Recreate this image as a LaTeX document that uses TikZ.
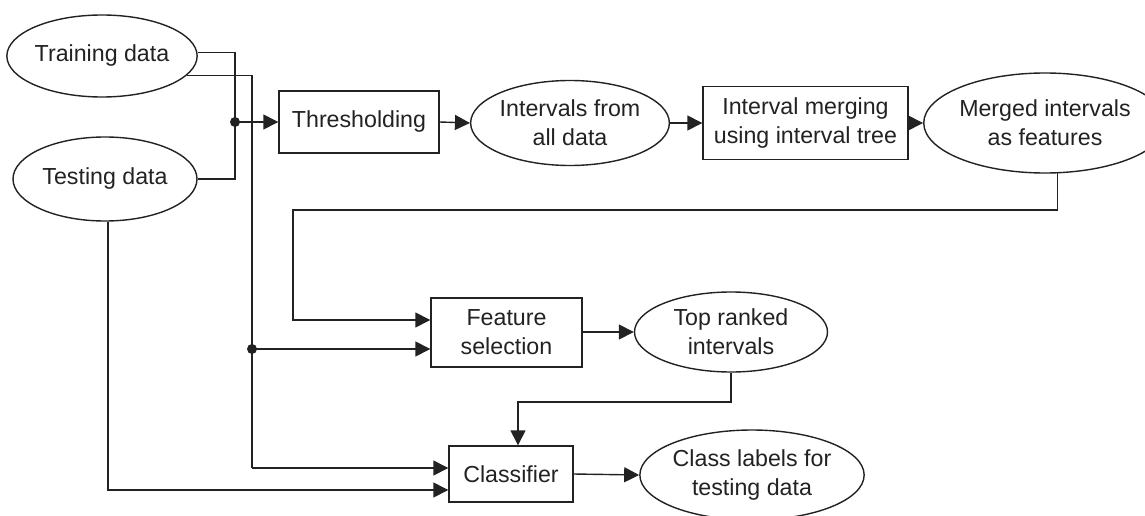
\documentclass[tikz,border=0pt]{standalone}
\usepackage{fontspec}
\setmainfont{Liberation Sans}
\usetikzlibrary{arrows.meta,shapes.geometric,calc}
\definecolor{ink}{HTML}{222222}
\tikzset{
  base/.style={draw=ink, line width=1.4pt, text=ink, inner sep=0pt, align=center,
    font=\fontsize{23.2}{29}\selectfont},
  oval/.style={base, ellipse},
  stepbox/.style={base, rectangle},
  wire/.style={draw=ink, line width=1.4pt},
  feed/.style={wire, -{Triangle[length=15pt,width=15pt]}},
  dot/.style={circle, fill=ink, inner sep=0pt, minimum size=10pt}
}
\begin{document}
\begin{tikzpicture}[x=1pt,y=-1pt]
\useasboundingbox (0,0) rectangle (1145,516);

% data sources
\node[oval, minimum width=189pt, minimum height=82pt] (train) at (102,56) {Training data};
\node[oval, minimum width=184pt, minimum height=84pt] (test) at (105,179) {Testing data};

% interval extraction row
\node[stepbox, minimum width=160pt, minimum height=62pt] (thr) at (359,122) {Thresholding};
\node[oval, minimum width=184pt, minimum height=85pt] (ivl) at (570,123) {Intervals from\\all data};
\node[stepbox, minimum width=205pt, minimum height=73pt] (mrg) at (805.5,123) {Interval merging\\using interval tree};
\node[oval, minimum width=200pt, minimum height=100pt] (feat) at (1045,123) {Merged intervals\\as features};

% selection and classification
\node[stepbox, minimum width=151pt, minimum height=69pt] (fs) at (506.5,332.5) {Feature\\selection};
\node[oval, minimum width=193pt, minimum height=80pt] (top) at (731,332) {Top ranked\\intervals};
\node[stepbox, minimum width=124pt, minimum height=56pt] (cls) at (511,474) {Classifier};
\node[oval, minimum width=210pt, minimum height=90pt] (lab) at (752,475) {Class labels for\\testing data};

% junction points and bends
\coordinate (j1) at (235,122);
\coordinate (j2) at (252,349);
\coordinate (c1) at (252,468);
\coordinate (fb1) at (293,210);
\coordinate (fb2) at (293,320);
\coordinate (tc) at (518,402);
\coordinate (t1) at (108,490);

% all data into thresholding
\draw[wire] (train.2.5) -| (j1);
\draw[wire] (test.east) -| (j1);
\draw[feed] (j1) -- (thr.west |- j1);
\node[dot] (d1) at (j1) {};

\draw[feed] (thr.east) -- (ivl.west);
\draw[feed] (ivl.east) -- (mrg.west);
\draw[feed] (mrg.east) -- (feat.west);

% merged intervals back to feature selection
\draw[feed] (feat.-76) |- (fb1) -- (fb2) -- (fb2 -| fs.west);

% training data to feature selection and classifier
\draw[wire] (train.-13) -| (j2) -- (c1);
\draw[feed] (j2) -- (j2 -| fs.west);
\draw[feed] (c1) -- (c1 -| cls.west);
\node[dot] (d2) at (j2) {};

\draw[feed] (fs.east |- top) -- (top.west);
\draw[feed] (top.south) |- (tc) -- (tc |- cls.north);

% testing data to classifier
\draw[feed] (test.south -| t1) -- (t1) -- (t1 -| cls.west);

\draw[feed] (cls.east) -- (lab.west);
\end{tikzpicture}
\end{document}
